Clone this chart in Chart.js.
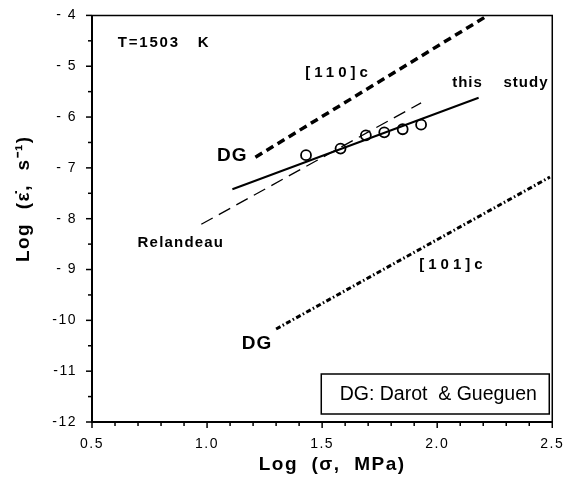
<!DOCTYPE html>
<html>
<head>
<meta charset="utf-8">
<script src="https://cdn.jsdelivr.net/npm/chart.js@4.4.0/dist/chart.umd.min.js"></script>
<style>
html,body{margin:0;padding:0;background:#fff;}
</style>
</head>
<body>
<canvas id="c" width="568" height="487"></canvas>
<script>
// measured creep points (this study)
const stressPts = [1.43, 1.58, 1.69, 1.77, 1.85, 1.93];
const ratePts = [-6.75, -6.62, -6.36, -6.30, -6.24, -6.15];

// lines, given by their two end points
const studyLineX = [1.11, 2.18];
const studyLineY = [-7.42, -5.62];
const relandeauX = [0.975, 1.93];
const relandeauY = [-8.11, -5.72];
const dg110X = [1.21, 2.22];
const dg110Y = [-6.79, -4.0];
const dg101X = [1.30, 2.49];
const dg101Y = [-10.17, -7.18];

// tick labels
const xTickValues = [0.5, 1.0, 1.5, 2.0, 2.5];
const xTickLabels = ['0.5', '1.0', '1.5', '2.0', '2.5'];
const yTickValues = [-12, -11, -10, -9, -8, -7, -6, -5, -4];
const yTickLabels = ['-12', '-11', '-10', '- 9', '- 8', '- 7', '- 6', '- 5', '- 4'];

const xTitle = 'Log  (σ,  MPa)';
const yTitle = 'Log  (ε̇,  s⁻¹)';

// text notes on the plot (data coords)
const notes = [
  {text: 'T=1503   K', x: 0.612, y: -4.55, size: 15, sp: 1.8},
  {text: '[110]c', x: 1.427, y: -5.135, size: 15, sp: 4},
  {text: 'this    study', x: 2.065, y: -5.33, size: 15, sp: 1},
  {text: 'DG', x: 1.043, y: -6.76, size: 19, sp: 1},
  {text: 'Relandeau', x: 0.698, y: -8.48, size: 15, sp: 1.2},
  {text: '[101]c', x: 1.922, y: -8.91, size: 15, sp: 4},
  {text: 'DG', x: 1.151, y: -10.46, size: 19, sp: 1}
];
const boxText = 'DG: Darot  & Gueguen';

const FONT = "'Liberation Sans', Arial, Helvetica, sans-serif";
Chart.defaults.font.family = FONT;
Chart.defaults.color = '#000';

function pairs(xs, ys) {
  return xs.map((x, i) => ({x: x, y: ys[i]}));
}

// frame, ticks, titles, notes and the key box
const decor = {
  id: 'decor',
  beforeDraw(chart) {
    chart.ctx.letterSpacing = '1.5px';
  },
  afterDraw(chart) {
    const ctx = chart.ctx;
    const a = chart.chartArea;
    const xs = chart.scales.x, ys = chart.scales.y;
    ctx.save();
    ctx.strokeStyle = '#000';
    ctx.fillStyle = '#000';
    ctx.lineCap = 'butt';
    // top / right
    ctx.lineWidth = 1.5;
    ctx.beginPath();
    ctx.moveTo(a.left, a.top); ctx.lineTo(a.right, a.top); ctx.lineTo(a.right, a.bottom);
    ctx.stroke();
    // left / bottom
    ctx.lineWidth = 2;
    ctx.beginPath();
    ctx.moveTo(a.left, a.top); ctx.lineTo(a.left, a.bottom); ctx.lineTo(a.right, a.bottom);
    ctx.stroke();
    // x ticks every 0.1
    ctx.lineWidth = 1.5;
    for (let i = 0; i <= 20; i++) {
      const px = xs.getPixelForValue(0.5 + i * 0.1);
      const len = (i % 5 === 0) ? 6 : 4;
      ctx.beginPath(); ctx.moveTo(px, a.bottom); ctx.lineTo(px, a.bottom + len); ctx.stroke();
    }
    // y ticks every 0.5
    for (let i = 0; i <= 16; i++) {
      const py = ys.getPixelForValue(-12 + i * 0.5);
      const len = (i % 2 === 0) ? 6 : 4;
      ctx.beginPath(); ctx.moveTo(a.left, py); ctx.lineTo(a.left - len, py); ctx.stroke();
    }
    // axis titles
    ctx.textAlign = 'center';
    ctx.textBaseline = 'middle';
    ctx.letterSpacing = '1.5px';
    ctx.font = 'bold 19px ' + FONT;
    ctx.fillText(xTitle, (a.left + a.right) / 2 + 10, 465);
    ctx.save();
    ctx.translate(24, (a.top + a.bottom) / 2 - 20);
    ctx.rotate(-Math.PI / 2);
    ctx.fillText(yTitle, 0, 0);
    ctx.restore();
    // notes
    ctx.textAlign = 'left';
    notes.forEach(n => {
      ctx.letterSpacing = n.sp + 'px';
      ctx.font = 'bold ' + n.size + 'px ' + FONT;
      ctx.fillText(n.text, xs.getPixelForValue(n.x), ys.getPixelForValue(n.y));
    });
    // key box
    const bx = a.right - 231, by = a.bottom - 48, bw = 228, bh = 40;
    ctx.lineWidth = 1.5;
    ctx.strokeRect(bx, by, bw, bh);
    ctx.letterSpacing = '0px';
    ctx.font = '19.5px ' + FONT;
    ctx.textAlign = 'center';
    ctx.fillText(boxText, bx + bw / 2 + 3, by + bh / 2 + 1);
    ctx.restore();
  }
};

new Chart(document.getElementById('c'), {
  type: 'scatter',
  data: {
    datasets: [
      {
        data: pairs(stressPts, ratePts),
        showLine: false,
        pointStyle: 'circle',
        pointRadius: 5,
        borderWidth: 1.8,
        borderColor: '#000',
        backgroundColor: 'rgba(0,0,0,0)'
      },
      {
        data: pairs(studyLineX, studyLineY),
        showLine: true, pointRadius: 0,
        borderColor: '#000', borderWidth: 2
      },
      {
        data: pairs(relandeauX, relandeauY),
        showLine: true, pointRadius: 0,
        borderColor: '#000', borderWidth: 1.3, borderDash: [13, 7]
      },
      {
        data: pairs(dg110X, dg110Y),
        showLine: true, pointRadius: 0,
        borderColor: '#000', borderWidth: 3.5, borderDash: [8, 5]
      },
      {
        data: pairs(dg101X, dg101Y),
        showLine: true, pointRadius: 0,
        borderColor: '#000', borderWidth: 3, borderDash: [5, 2.5, 1.5, 2.5]
      }
    ]
  },
  options: {
    responsive: false,
    animation: false,
    layout: {padding: {left: 0, top: 14, right: 12, bottom: 0}},
    plugins: {legend: {display: false}, tooltip: {enabled: false}},
    scales: {
      x: {
        type: 'linear', min: 0.5, max: 2.5,
        grid: {display: false}, border: {display: false},
        afterBuildTicks: s => { s.ticks = xTickValues.map(v => ({value: v})); },
        ticks: {
          font: {size: 14}, padding: 6, maxRotation: 0,
          callback: v => xTickLabels[xTickValues.indexOf(v)]
        },
        afterFit: s => { s.height = 65; }
      },
      y: {
        type: 'linear', min: -12, max: -4,
        grid: {display: false}, border: {display: false},
        afterBuildTicks: s => { s.ticks = yTickValues.map(v => ({value: v})); },
        ticks: {
          font: {size: 14}, padding: 7,
          callback: v => yTickLabels[yTickValues.indexOf(v)]
        },
        afterFit: s => { s.width = 92; }
      }
    }
  },
  plugins: [decor]
});
</script>
</body>
</html>
